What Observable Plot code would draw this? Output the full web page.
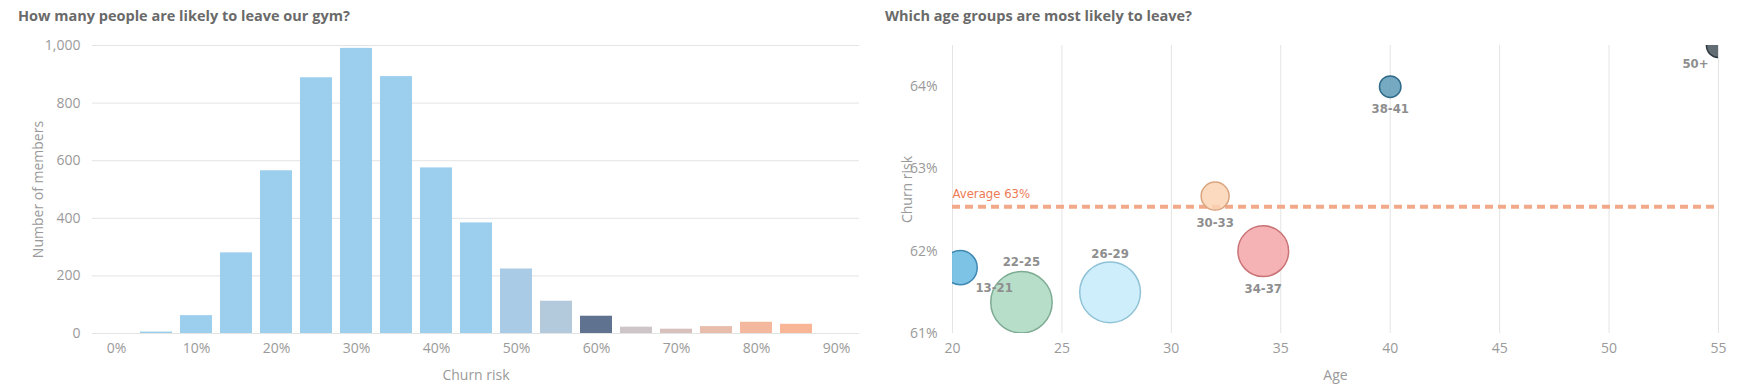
<!DOCTYPE html>
<html><head><meta charset="utf-8">
<script src="https://cdn.jsdelivr.net/npm/d3@7"></script>
<script src="https://cdn.jsdelivr.net/npm/@observablehq/plot@0.6"></script>
<style>
body{margin:0;background:#fff;width:1743px;height:387px;overflow:hidden;position:relative;font-family:"Open Sans",sans-serif}
.title{position:absolute;top:6px;font-weight:700;font-size:14.5px;color:#6a6a6a;white-space:nowrap}
#left{position:absolute;left:0;top:30px}
#right{position:absolute;left:860px;top:30px}
</style></head><body>
<div class="title" style="left:18px">How many people are likely to leave our gym?</div>
<div class="title" style="left:885px">Which age groups are most likely to leave?</div>
<div id="left"></div><div id="right"></div>
<script>
// ---- Left chart data: churn risk histogram ----
const churnBins = [0,5,10,15,20,25,30,35,40,45,50,55,60,65,70,75,80,85,90];
const memberCounts = [0,5,62,280,565,888,990,892,575,384,224,112,60,22,15,24,39,32,0];
const binColors = ["#9ccfee","#9ccfee","#9ccfee","#9ccfee","#9ccfee","#9ccfee","#9ccfee","#9ccfee","#9ccfee","#9ccfee",
  "#a9cbe5","#b3c9dc","#5f7390","#cdc5c7","#d8c1bd","#e8bdac","#f3b89d","#f9b697","#f9b697"];
const xTickBins = [0,10,20,30,40,50,60,70,80,90];
const yTicksLeft = [0,200,400,600,800,1000];

// ---- Right chart data: age groups ----
const ageGroups = ["13-21","22-25","26-29","30-33","34-37","38-41","50+"];
const avgAge = [20.35,23.15,27.2,32.0,34.2,40.0,55.0];
const groupChurn = [0.6180,0.6138,0.6150,0.6267,0.6200,0.6400,0.6450];
const groupMembers = [462,1497,1466,311,1020,183,231];
const groupFill = ["#66b8e2","#a9d8be","#c5ebfb","#fad3b4","#f4a6a8","#5e9bb8","#46525b"];
const groupStroke = ["#3f88b2","#7eab93","#90c2d5","#d9a57f","#c97477","#2f6b89","#2d3940"];
const averageChurn = 0.6254;
const averageLabel = "Average 63%";
const ageTicks = [20,25,30,35,40,45,50,55];
const churnTicks = [0.61,0.62,0.63,0.64];

// label layout (offsets in px from bubble centre)
const labelOffsets = {"13-21":[34,20],"22-25":[0,-40],"26-29":[0,-39],"30-33":[0,27],"34-37":[0,38],"38-41":[0,22],"50+":[-23,18]};

const bars = churnBins.map((b,i)=>({bin:b,count:memberCounts[i],color:binColors[i]}));
const groups = ageGroups.map((g,i)=>({group:g,age:avgAge[i],churn:groupChurn[i],members:groupMembers[i],fill:groupFill[i],stroke:groupStroke[i]}));

const tickFont = {fontSize:14, fontFamily:"Open Sans, sans-serif"};

const left = Plot.plot({
  width: 870, height: 357,
  marginLeft: 92, marginRight: 11, marginTop: 15, marginBottom: 54,
  style: {fontFamily:"Open Sans, sans-serif", fontSize:"14px", color:"#9a9a9a", background:"transparent"},
  x: {type:"band", domain: churnBins, paddingInner:0.2, paddingOuter:0.07},
  y: {domain:[0,1000]},
  marks: [
    Plot.gridY(yTicksLeft, {stroke:"#e4e4e4", strokeOpacity:1}),
    Plot.barY(bars, {x:"bin", y:"count", fill:"color"}),
    Plot.axisY({ticks:yTicksLeft, tickSize:0, tickPadding:12, tickFormat:d3.format(","), label:"Number of members", labelAnchor:"center", labelOffset:59, labelArrow:"none", fill:"#9a9a9a"}),
    Plot.axisX({ticks:xTickBins, tickSize:0, tickPadding:10, tickFormat:d=>d+"%", label:"Churn risk", labelAnchor:"center", labelOffset:46, labelArrow:"none", fill:"#9a9a9a"})
  ]
});
document.getElementById("left").appendChild(left);

const labelMarks = groups.map(g => Plot.text([g], {x:"age", y:"churn", text:"group", dx:labelOffsets[g.group][0], dy:labelOffsets[g.group][1],
  fill:"#8e8e8e", fontSize:13, fontWeight:"bold", fontFamily:"DejaVu Sans Condensed, DejaVu Sans, sans-serif", letterSpacing:"1px"}));

const right = Plot.plot({
  width: 883, height: 357,
  marginLeft: 92, marginRight: 25, marginTop: 15, marginBottom: 54,
  style: {fontFamily:"Open Sans, sans-serif", fontSize:"14px", color:"#9a9a9a", background:"transparent", overflow:"visible"},
  x: {domain:[20,55]},
  y: {domain:[0.61,0.645]},
  r: {range:[0,30.7]},
  marks: [
    Plot.gridX(ageTicks, {stroke:"#e4e4e4", strokeOpacity:1}),
    Plot.ruleY([averageChurn], {stroke:"#f2a98a", strokeWidth:4, strokeDasharray:"8,5"}),
    Plot.text([averageChurn], {x:20, y:d=>d, text:()=>averageLabel, textAnchor:"start", dy:-13, fill:"#ee7a55", fontSize:13, fontFamily:"DejaVu Sans Condensed, DejaVu Sans, sans-serif", letterSpacing:"0.5px"}),
    Plot.dot(groups, {x:"age", y:"churn", r:"members", fill:"fill", stroke:"stroke", fillOpacity:0.85, strokeWidth:1.5, clip:true}),
    ...labelMarks,
    Plot.axisY({ticks:churnTicks, tickSize:0, tickPadding:15, tickFormat:d3.format(".0%"), label:"Churn risk", labelAnchor:"center", labelOffset:50, labelArrow:"none", fill:"#9a9a9a"}),
    Plot.axisX({ticks:ageTicks, tickSize:0, tickPadding:10, label:"Age", labelAnchor:"center", labelOffset:46, labelArrow:"none", fill:"#9a9a9a"})
  ]
});
document.getElementById("right").appendChild(right);
</script>
</body></html>
